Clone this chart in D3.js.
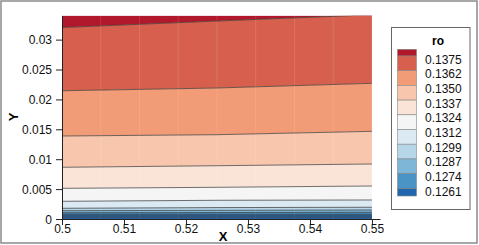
<!DOCTYPE html>
<html>
<head>
<meta charset="utf-8">
<script src="https://cdn.jsdelivr.net/npm/d3@7"></script>
<style>
  html, body { margin: 0; padding: 0; background: #fff; }
  svg { display: block; font-family: "Liberation Sans", Arial, sans-serif; }
</style>
</head>
<body>
<svg id="chart" width="479" height="245"></svg>
<script>
// contour levels (top to bottom) and the y of each contour line at the x samples
const xSamples = [0.5, 0.525, 0.55];
const levels = [0.1375, 0.1362, 0.1350, 0.1337, 0.1324, 0.1312, 0.1299, 0.1287, 0.1274, 0.1261, 0.1248, 0.1236];
const lineY = [
  [0.03202, 0.03311, 0.03415],
  [0.02145, 0.02191, 0.02269],
  [0.01388, 0.01410, 0.01466],
  [0.00865, 0.00891, 0.00920],
  [0.00513, 0.00530, 0.00552],
  [0.00296, 0.00313, 0.00318],
  [0.00179, 0.00191, 0.00196],
  [0.00139, 0.00145, 0.00151],
  [0.00105, 0.00108, 0.00112],
  [0.00079, 0.00079, 0.00079],
  [0.00050, 0.00050, 0.00050],
  [0.00022, 0.00022, 0.00022]
];
const bandColors = ["#b2182b", "#d6604d", "#f19b77", "#f8c6ad", "#fae4d8", "#f5f5f5",
                    "#dbe9f2", "#b7d6e8", "#7db6d7", "#4a94c5", "#2166ac"];
const legendLabels = ["0.1375", "0.1362", "0.1350", "0.1337", "0.1324", "0.1312", "0.1299", "0.1287", "0.1274", "0.1261"];
const meshX = [0.50625, 0.5125, 0.51875, 0.525, 0.53125, 0.5375, 0.54375];
const xTicks = [0.5, 0.51, 0.52, 0.53, 0.54, 0.55];
const yTicks = [0, 0.005, 0.01, 0.015, 0.02, 0.025, 0.03];

const svg = d3.select("#chart");
const xMin = 0.5, xMax = 0.55, yMin = 0, yMax = 0.034;

const x = d3.scaleLinear().domain([0.5, 0.5513]).range([62, 380]);
const y = d3.scaleLinear().domain([yMin, yMax]).range([219, 15.7]);

// outer frame
svg.append("rect")
  .attr("x", 1).attr("y", 1).attr("width", 476).attr("height", 242)
  .attr("fill", "none").attr("stroke", "#8a8a8a").attr("stroke-width", 1.5);

svg.append("clipPath").attr("id", "plotclip")
  .append("rect")
  .attr("x", x(xMin)).attr("y", y(yMax))
  .attr("width", x(xMax) - x(xMin)).attr("height", y(yMin) - y(yMax));

const plot = svg.append("g").attr("clip-path", "url(#plotclip)");

// bands between contour lines
const nBands = levels.length + 1;
const bands = d3.range(nBands).map(function(k) {
  return xSamples.map(function(xv, i) {
    return {
      x: xv,
      top: k === 0 ? yMax : lineY[k - 1][i],
      bottom: k === levels.length ? yMin : lineY[k][i]
    };
  });
});

const area = d3.area()
  .x(d => x(d.x))
  .y0(d => y(d.bottom))
  .y1(d => y(d.top));

plot.selectAll("path.band")
  .data(bands)
  .enter().append("path")
  .attr("class", "band")
  .attr("d", area)
  .attr("fill", (d, k) => bandColors[Math.min(k, bandColors.length - 1)])
  .attr("stroke", (d, k) => bandColors[Math.min(k, bandColors.length - 1)])
  .attr("stroke-width", 0.3);

// faint mesh seams
plot.selectAll("line.mesh")
  .data(meshX)
  .enter().append("line")
  .attr("class", "mesh")
  .attr("x1", d => x(d)).attr("x2", d => x(d))
  .attr("y1", y(yMin)).attr("y2", y(yMax))
  .attr("stroke", "#fff").attr("stroke-opacity", 0.12).attr("stroke-width", 1);

// contour lines
const line = d3.line()
  .x((d, i) => x(xSamples[i]))
  .y(d => y(d));

plot.selectAll("path.cline")
  .data(lineY)
  .enter().append("path")
  .attr("class", "cline")
  .attr("d", line)
  .attr("fill", "none")
  .attr("stroke", "#3a3a3a")
  .attr("stroke-opacity", 0.8)
  .attr("stroke-width", 0.9);

// axes
const xMinor = d3.range(0.5, 0.5513, 0.002).filter(v => Math.abs(v * 100 - Math.round(v * 100)) > 1e-6);
const yMinor = d3.range(0, 0.0345, 0.001).filter(v => Math.abs(v * 200 - Math.round(v * 200)) > 1e-6);

const xAxis = svg.append("g").attr("transform", "translate(0," + y(0) + ")");
xAxis.call(d3.axisBottom(x).tickValues(xMinor).tickSize(3).tickFormat(""));
xAxis.call(d3.axisBottom(x).tickValues(xTicks).tickSize(6).tickSizeOuter(0).tickFormat(d3.format("")));
xAxis.selectAll("path.domain").attr("stroke", "#222");
xAxis.selectAll(".tick line").attr("stroke", "#222");
xAxis.selectAll("text")
  .attr("y", 14).attr("dy", 0)
  .attr("font-size", 12).attr("fill", "#111")
  .attr("font-family", "Liberation Sans, Arial, sans-serif");

const yAxis = svg.append("g").attr("transform", "translate(" + x(0.5) + ",0)");
yAxis.call(d3.axisLeft(y).tickValues(yMinor).tickSize(3).tickFormat(""));
yAxis.call(d3.axisLeft(y).tickValues(yTicks).tickSize(6).tickSizeOuter(0).tickFormat(d3.format("")));
yAxis.selectAll("path.domain").attr("stroke", "#222");
yAxis.selectAll(".tick line").attr("stroke", "#222");
yAxis.selectAll("text")
  .attr("x", -10).attr("dy", "0.36em")
  .attr("font-size", 12).attr("fill", "#111")
  .attr("font-family", "Liberation Sans, Arial, sans-serif");

// axis titles
svg.append("text")
  .attr("x", 223).attr("y", 241)
  .attr("text-anchor", "middle")
  .attr("font-size", 13).attr("font-weight", "bold")
  .text("X");

svg.append("text")
  .attr("transform", "translate(17.5,117) rotate(-90)")
  .attr("text-anchor", "middle")
  .attr("font-size", 13).attr("font-weight", "bold")
  .text("Y");

// legend
const legend = svg.append("g");
legend.append("rect")
  .attr("x", 391.5).attr("y", 27.5).attr("width", 78.5).attr("height", 182)
  .attr("fill", "#fff").attr("stroke", "#666").attr("stroke-width", 1);

legend.append("text")
  .attr("x", 438).attr("y", 44.5)
  .attr("text-anchor", "middle")
  .attr("font-size", 12).attr("font-weight", "bold")
  .text("ro");

const boxTop = 49.3, firstEdge = 56, step = 14.7, lastBottom = 196;
const ly = d3.scaleLinear().domain([0, legendLabels.length - 1]).range([firstEdge, firstEdge + step * (legendLabels.length - 1)]);

legend.selectAll("rect.swatch")
  .data(bandColors)
  .enter().append("rect")
  .attr("class", "swatch")
  .attr("x", 397.5).attr("width", 19)
  .attr("y", (d, k) => k === 0 ? boxTop : ly(k - 1))
  .attr("height", (d, k) => k === 0 ? firstEdge - boxTop : (k === bandColors.length - 1 ? lastBottom - ly(k - 1) : step))
  .attr("fill", d => d)
  .attr("stroke", "#888").attr("stroke-width", 0.6);

legend.selectAll("text.lab")
  .data(legendLabels)
  .enter().append("text")
  .attr("class", "lab")
  .attr("x", 425).attr("y", (d, i) => ly(i) + 7.5)
  .attr("font-size", 12).attr("fill", "#111")
  .text(d => d);
</script>
</body>
</html>
